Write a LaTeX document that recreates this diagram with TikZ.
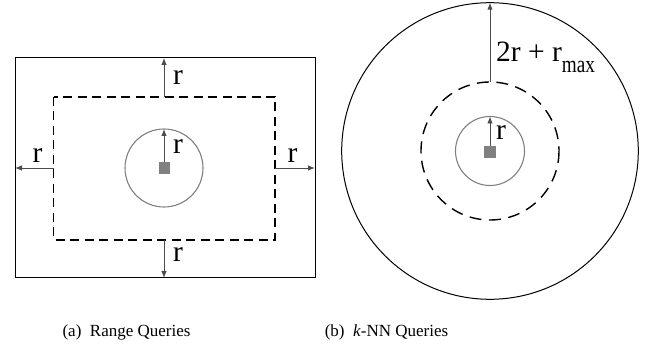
\documentclass[tikz,border=0pt]{standalone}
\usepackage{fontspec}
\setmainfont{Liberation Serif}
\usetikzlibrary{arrows.meta}
\tikzset{
  bound/.style={draw=black, line width=1.0pt},
  zone/.style={draw=black, line width=1.4pt, dash pattern=on 9pt off 5.5pt},
  zonecirc/.style={draw=black, line width=1.4pt, dash pattern=on 12pt off 7.5pt},
  query/.style={draw=black!50, line width=1.1pt},
  obj/.style={fill=black!50, draw=none, minimum size=11.5pt, inner sep=0pt},
  dimarrow/.style={draw=black!70, line width=0.9pt, -{Latex[length=7pt,width=5.5pt]}},
  lbl/.style={inner sep=0pt, font=\fontsize{29.5}{32}\selectfont},
  captext/.style={inner sep=0pt, font=\fontsize{17}{20}\selectfont, anchor=base}
}
\begin{document}
\begin{tikzpicture}[x=1pt,y=-1pt]
\useasboundingbox (0,0) rectangle (657,350);
% ---------- (a) Range queries ----------
\draw[bound] (15,58) rectangle (315,278);
\draw[zone] (53.5,97) rectangle (275,240);
\draw[query] (164,168) circle (39);
\node[obj] (qa) at (164.5,168) {};
\coordinate (ztop) at (164,97);
\coordinate (btop) at (164,58);
\coordinate (zbot) at (164,240);
\coordinate (bbot) at (164,278);
\coordinate (zleft) at (53.5,168);
\coordinate (bleft) at (15,168);
\coordinate (zright) at (275,168);
\coordinate (bright) at (315,168);
\coordinate (ctop) at (164,129);
\draw[dimarrow] (ztop) -- (btop);
\draw[dimarrow] (zbot) -- (bbot);
\draw[dimarrow] (zleft) -- (bleft);
\draw[dimarrow] (zright) -- (bright);
\draw[dimarrow] (qa.north -| ctop) -- (ctop);
\node[lbl] (ra1) at (178,77.5) {r};
\node[lbl] (ra2) at (178,254.5) {r};
\node[lbl] (ra3) at (37.5,155.5) {r};
\node[lbl] (ra4) at (292.5,155.5) {r};
\node[lbl] (ra5) at (178,147) {r};
\node[captext] (capa) at (126.5,337) {(a)\ \ Range Queries};
% ---------- (b) kNN queries ----------
\draw[bound] (490,151) circle (148.3);
\draw[zonecirc] (490,151) circle (69);
\draw[query] (490,151) circle (34.5);
\node[obj, minimum size=12.5pt] (qb) at (490,152) {};
\coordinate (dtop) at (490,82);
\coordinate (otop) at (490,2.7);
\coordinate (gtop) at (490,116.5);
\draw[dimarrow] (dtop) -- (otop);
\draw[dimarrow] (qb.north) -- (gtop);
\node[lbl, anchor=base west] (rb1) at (496,61.7) {2r + r{\fontsize{24}{26}\selectfont\raisebox{-11pt}{\scalebox{0.8}[1]{max}}}};
\node[lbl] (rb2) at (501,133) {r};
\node[captext] (capb) at (386.5,337) {(b)\ \ \textit{k}-NN Queries};
\end{tikzpicture}
\end{document}
